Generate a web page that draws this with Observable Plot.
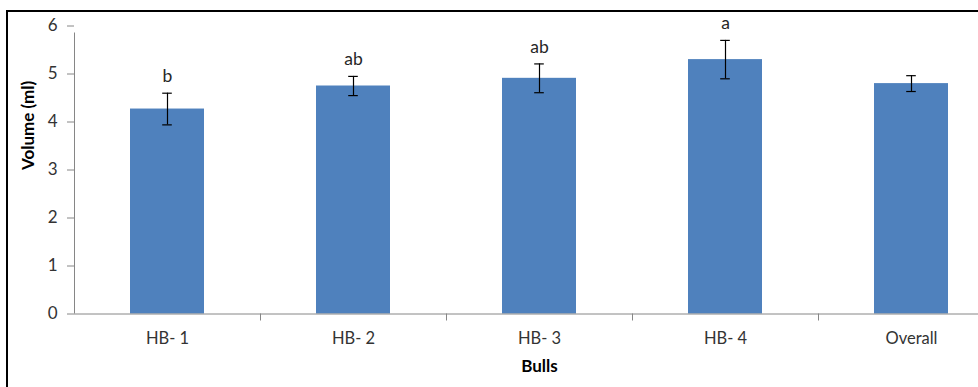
<!DOCTYPE html>
<html>
<head>
<meta charset="utf-8">
<script src="https://cdn.jsdelivr.net/npm/d3@7"></script>
<script src="https://cdn.jsdelivr.net/npm/@observablehq/plot@0.6"></script>
<style>
  html, body { margin: 0; padding: 0; background: #fff; overflow: hidden; width: 978px; height: 387px; }
  #frame { position: absolute; left: 6px; top: 10px; width: 1200px; height: 600px; border: 2px solid #000; }
  #chart { position: absolute; left: 0; top: 0; width: 1010px; }
  #chart svg { overflow: visible; max-width: none !important; }
</style>
</head>
<body>
<div id="frame"></div>
<div id="chart"></div>
<script>
// Semen volume per bull (mean ± SE) with significance letters
const bulls = ["HB- 1", "HB- 2", "HB- 3", "HB- 4", "Overall"];
const volume = [4.27, 4.75, 4.91, 5.30, 4.80];
const errors = [0.33, 0.20, 0.30, 0.40, 0.165];
const letters = ["b", "ab", "ab", "a", ""];
const yTicks = [0, 1, 2, 3, 4, 5, 6];

const data = bulls.map((bull, i) => ({bull, volume: volume[i], err: errors[i], letter: letters[i]}));

// layout
const width = 1010, height = 387;
const marginLeft = 74, marginRight = 6, marginTop = 25.5, marginBottom = 73.5;
const step = (width - marginLeft - marginRight) / bulls.length;
const bandwidth = step * 0.4;
const capWidth = 10;
const axisGrey = "#868686";
const barBlue = "#4F81BD";
const textColor = "#333";

const chart = Plot.plot({
  width, height, marginLeft, marginRight, marginTop, marginBottom,
  style: {fontFamily: "Lato, 'Open Sans', sans-serif", fontSize: "16px", color: textColor, background: "transparent"},
  x: {domain: bulls, paddingInner: 0.6, paddingOuter: 0.3, axis: null},
  y: {domain: [0, 6], axis: null},
  marks: [
    Plot.barY(data, {x: "bull", y: "volume", fill: barBlue}),
    // axes
    Plot.ruleY([0], {stroke: axisGrey}),
    Plot.ruleX([bulls[0]], {dx: -step / 2, y1: 0, y2: 6, insetBottom: -7, stroke: axisGrey}),
    Plot.ruleX(bulls.slice(1), {x: d => d, y1: 0, y2: 0, dx: -step / 2, insetBottom: -7, stroke: axisGrey}),
    Plot.axisY(yTicks, {tickSize: 7, tickPadding: 10, stroke: axisGrey, fill: textColor, label: null, fontSize: 17}),
    Plot.axisX(bulls, {tickSize: 0, tickPadding: 18, fill: textColor, label: null, fontSize: 16.5}),
    // error bars
    Plot.ruleX(data, {x: "bull", y1: d => d.volume - d.err, y2: d => d.volume + d.err, stroke: "#000", strokeWidth: 1.2}),
    Plot.tickY(data, {x: "bull", y: d => d.volume + d.err, stroke: "#000", strokeWidth: 1.2, inset: (bandwidth - capWidth) / 2}),
    Plot.tickY(data, {x: "bull", y: d => d.volume - d.err, stroke: "#000", strokeWidth: 1.2, inset: (bandwidth - capWidth) / 2}),
    // significance letters
    Plot.text(data, {x: "bull", y: d => d.volume + d.err, text: "letter", dy: -17, fontSize: 17.5, fill: "#262626"}),
    // axis titles
    Plot.text(["Volume (ml)"], {frameAnchor: "left", rotate: -90, dx: -45.5, fontWeight: "bold", fontSize: 17, fill: "#000"}),
    Plot.text(["Bulls"], {frameAnchor: "bottom", dy: 57.5, fontWeight: "bold", fontSize: 17, fill: "#000"})
  ]
});

document.getElementById("chart").append(chart);
</script>
</body>
</html>
